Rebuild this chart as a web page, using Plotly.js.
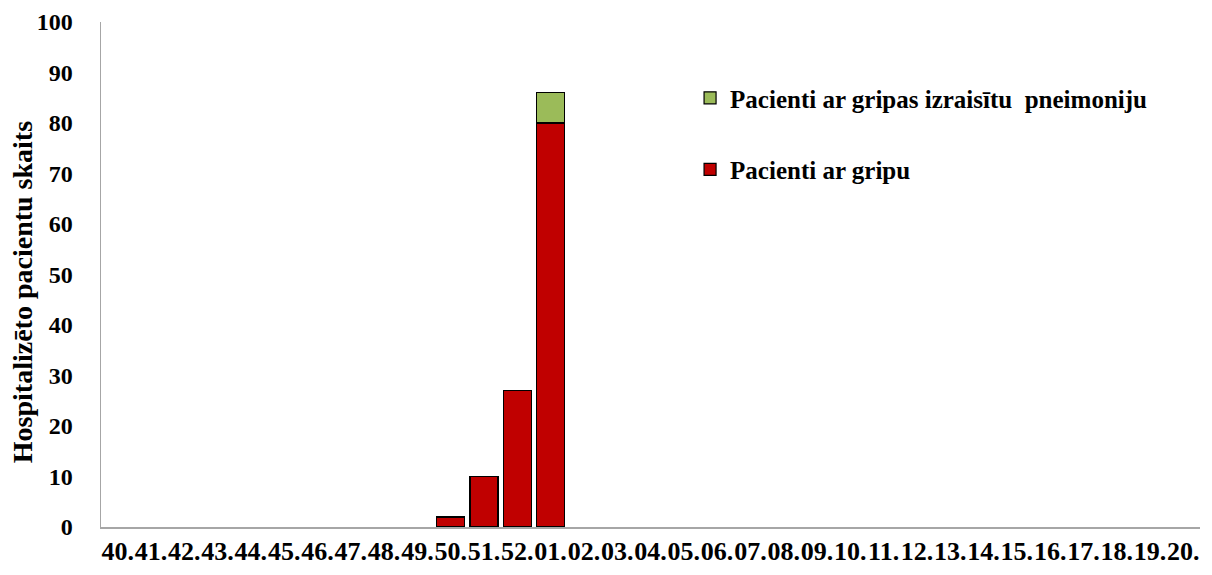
<!DOCTYPE html>
<html>
<head>
<meta charset="utf-8">
<script src="https://cdn.plot.ly/plotly-3.0.1.min.js"></script>
<style>html,body{margin:0;padding:0;background:#fff;}#chart{width:1212px;height:575px;}</style>
</head>
<body>
<div id="chart"></div>
<script>
const weeks = ["40.","41.","42.","43.","44.","45.","46.","47.","48.","49.","50.","51.","52.","01.","02.","03.","04.","05.","06.","07.","08.","09.","10.","11.","12.","13.","14.","15.","16.","17.","18.","19.","20."];
const gripa = [null,null,null,null,null,null,null,null,null,null,2,10,27,80,null,null,null,null,null,null,null,null,null,null,null,null,null,null,null,null,null,null,null];
const pneimonija = [null,null,null,null,null,null,null,null,null,null,null,null,null,6,null,null,null,null,null,null,null,null,null,null,null,null,null,null,null,null,null,null,null];
const seriesNames = ["Pacienti ar gripu", "Pacienti ar gripas izraisītu  pneimoniju"];
const yTicks = [0,10,20,30,40,50,60,70,80,90,100];
const yTitle = "Hospitalizēto pacientu skaits";

const font = "'Liberation Serif', 'Times New Roman', serif";
const traces = [
  {type:"bar", x:weeks, y:gripa, name:seriesNames[0], legendgroup:"a", legendrank:2,
   marker:{color:"#C00000", line:{color:"#000", width:1.2}}},
  {type:"bar", x:weeks, y:pneimonija, name:seriesNames[1], legendgroup:"b", legendrank:1,
   marker:{color:"#9BBB59", line:{color:"#000", width:1.2}}}
];
const layout = {
  width:1212, height:575,
  margin:{l:101, r:12, t:22, b:48},
  paper_bgcolor:"#fff", plot_bgcolor:"#fff",
  barmode:"stack", bargap:0.16,
  font:{family:font, color:"#000", size:24},
  showlegend:true,
  legend:{x:0.536, y:0.895, xanchor:"left", yanchor:"top", traceorder:"grouped",
          tracegroupgap:36, font:{family:font, size:25, weight:"bold"}, bgcolor:"rgba(0,0,0,0)",
          itemwidth:30},
  xaxis:{type:"category", tickvals:weeks, ticktext:weeks, showgrid:false, showline:true,
         linecolor:"#A6A6A6", linewidth:1.5, ticks:"", tickangle:0,
         tickfont:{family:font, size:26, weight:"bold"}, zeroline:false, fixedrange:true},
  yaxis:{range:[0,100], tickvals:yTicks, showgrid:false, showline:true, linecolor:"#A6A6A6",
         linewidth:1.5, ticks:"", ticklabelstandoff:22,
         tickfont:{family:font, size:24, weight:"bold"}, zeroline:false},
  annotations:[{text:yTitle, textangle:-90, xref:"paper", yref:"paper", x:-0.0719, y:0.465,
                xanchor:"center", yanchor:"middle", showarrow:false,
                font:{family:font, size:28, weight:"bold"}}]
};
Plotly.newPlot("chart", traces, layout, {displayModeBar:false, staticPlot:true});
</script>
</body>
</html>
